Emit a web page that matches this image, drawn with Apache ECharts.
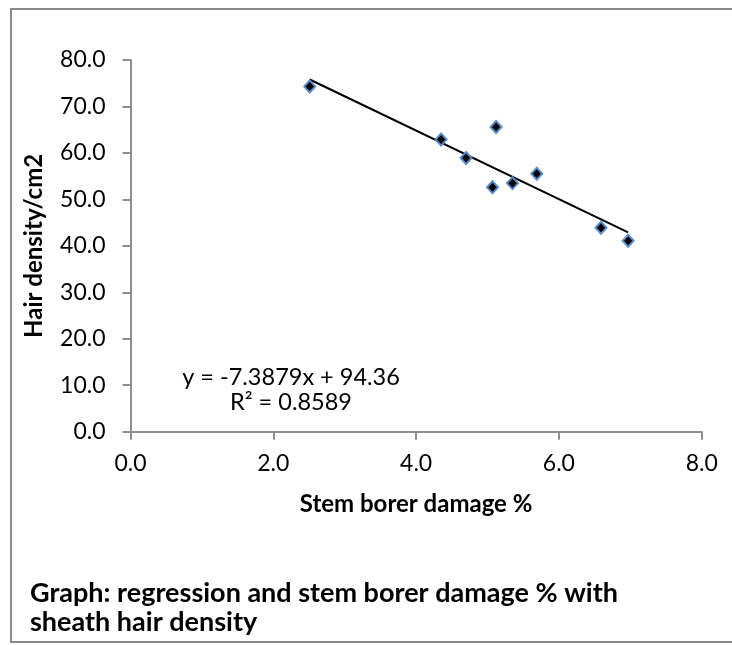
<!DOCTYPE html>
<html>
<head>
<meta charset="utf-8">
<script src="https://cdn.jsdelivr.net/npm/echarts@6/dist/echarts.min.js"></script>
<style>
  html, body { margin: 0; padding: 0; background: #fff; }
  #main { width: 732px; height: 645px; }
</style>
</head>
<body>
<div id="main"></div>
<script>
// stem borer damage % vs hair density/cm2
let damage = [2.51, 4.35, 5.12, 4.70, 5.07, 5.35, 5.69, 6.59, 6.97];
let hairDensity = [74.3, 62.9, 65.6, 58.9, 52.6, 53.5, 55.5, 43.9, 41.1];

// linear trendline ends
let trendX = [2.51, 6.97];
let trendY = [75.8, 42.9];

let equationText = 'y = -7.3879x + 94.36';
let rSquaredText = 'R\u00b2 = 0.8589';
let captionText = 'Graph: regression and stem borer damage % with\nsheath hair density';

let FONT = 'Lato';
let axisGrey = '#8e8e8e';

let points = [];
for (let i = 0; i < damage.length; i++){
    points.push([damage[i], hairDensity[i]]);
}
let trend = [];
for (let i = 0; i < trendX.length; i++){
    trend.push([trendX[i], trendY[i]]);
}

let option = {
    animation: false,
    grid: {left: 130.5, right: 30.3, top: 60, bottom: 213.3, containLabel: false},
    xAxis: {
        type: 'value',
        min: 0, max: 8, interval: 2,
        name: 'Stem borer damage %',
        nameLocation: 'middle',
        nameGap: 61,
        nameTextStyle: {fontFamily: FONT, fontWeight: 'bold', fontSize: 24, color: '#000'},
        axisLine: {show: true, onZero: false, lineStyle: {color: axisGrey, width: 2}},
        axisTick: {show: true, inside: false, length: 8, lineStyle: {color: axisGrey, width: 2}},
        axisLabel: {
            margin: 20,
            fontFamily: FONT, fontSize: 23, color: '#000',
            formatter: v => v.toFixed(1)
        },
        splitLine: {show: false}
    },
    yAxis: {
        type: 'value',
        min: 0, max: 80, interval: 10,
        name: 'Hair density/cm2',
        nameLocation: 'middle',
        nameGap: 84,
        nameRotate: 90,
        nameTextStyle: {fontFamily: FONT, fontWeight: 'bold', fontSize: 24, color: '#000'},
        axisLine: {show: true, onZero: false, lineStyle: {color: axisGrey, width: 2}},
        axisTick: {show: true, inside: false, length: 8, lineStyle: {color: axisGrey, width: 2}},
        axisLabel: {
            margin: 25,
            fontFamily: FONT, fontSize: 23, color: '#000',
            formatter: v => v.toFixed(1)
        },
        splitLine: {show: false}
    },
    series: [
        {
            type: 'line',
            name: 'Linear trend',
            data: trend,
            showSymbol: false,
            symbol: 'none',
            lineStyle: {color: '#000', width: 2},
            z: 2
        },
        {
            type: 'scatter',
            name: 'Hair density',
            data: points,
            symbol: 'diamond',
            symbolSize: [11, 12],
            itemStyle: {color: '#000', borderColor: '#5b8bc8', borderWidth: 2, opacity: 1},
            z: 3
        }
    ],
    graphic: [
        {
            type: 'rect',
            shape: {x: 11, y: 9, width: 740, height: 633},
            style: {fill: 'none', stroke: '#8a8a8a', lineWidth: 2},
            silent: true
        },
        {
            type: 'text',
            x: 291, y: 377,
            style: {text: equationText, font: '23.5px ' + FONT, fill: '#000', textAlign: 'center', textVerticalAlign: 'middle'}
        },
        {
            type: 'text',
            x: 291, y: 402,
            style: {text: rSquaredText, font: '23.5px ' + FONT, fill: '#000', textAlign: 'center', textVerticalAlign: 'middle'}
        },
        {
            type: 'text',
            x: 30, y: 579,
            style: {text: captionText, font: 'bold 27px ' + FONT, fill: '#000', lineHeight: 29, textAlign: 'left', textVerticalAlign: 'top'}
        }
    ]
};

let chart = echarts.init(document.getElementById('main'), null, {renderer: 'canvas'});
chart.setOption(option);
</script>
</body>
</html>
